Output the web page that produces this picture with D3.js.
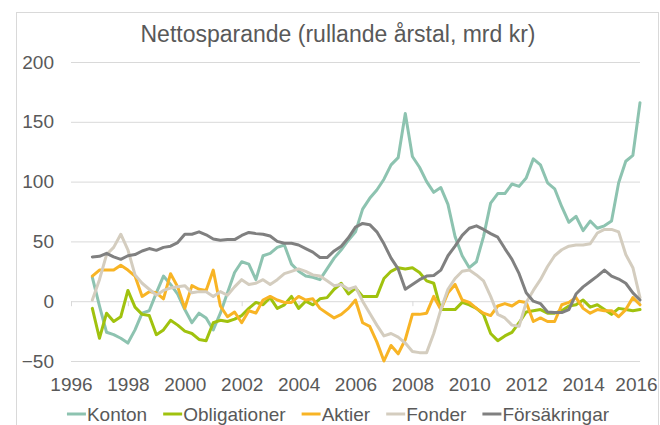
<!DOCTYPE html>
<html>
<head>
<meta charset="utf-8">
<script src="https://cdn.jsdelivr.net/npm/d3@7"></script>
<style>
  body { margin: 0; background: #fff; }
  text { font-family: "Liberation Sans", Arial, sans-serif; fill: #595959; }
</style>
</head>
<body>
<div id="svg-area"></div>
<script>
// quarterly values, first point 1996 Q3 (1996.75), last 2016.0
var firstQuarter = 1996.75;
var seriesNames = ["Konton", "Obligationer", "Aktier", "Fonder", "Försäkringar"];
var yTicks = [-50, 0, 50, 100, 150, 200];
var xTicks = [1996, 1998, 2000, 2002, 2004, 2006, 2008, 2010, 2012, 2014, 2016];

var konton = [20, -4, -26, -28, -31, -35, -24, -10, -8, 7, 21, 14, 6, -7, -18, -10, -14, -24, -10, 7,
  24, 33, 31, 18, 38, 40, 45, 47, 31, 25, 21, 20, 18, 27, 36, 43, 51, 58, 77, 86,
  93, 102, 114, 120, 157, 121, 112, 100, 91, 95, 81, 54, 38, 28, 33, 54, 82, 90, 90, 98,
  96, 103, 119, 114, 99, 94, 79, 66, 71, 59, 67, 61, 63, 67, 99, 117, 122, 166];
var obligationer = [-6, -31, -10, -17, -13, 9, -5, -11, -12, -28, -24, -16, -20, -25, -27, -32, -33, -18, -16, -17,
  -15, -12, -6, -1, -3, 3, -6, -3, 4, -6, 0, -3, 2, 3, 10, 15, 6, 11, 4, 4,
  4, 19, 25, 28, 27, 28, 24, 17, 15, -7, -7, -7, -1, -3, -6, -11, -27, -33, -29, -26,
  -18, -9, -8, -7, -10, -10, -8, -4, -3, 1, -5, -3, -7, -11, -6, -7, -8, -7];
var aktier = [21, 26, 26, 26, 30, 26, 21, 4, 8, 7, 2, 23, 12, -6, 13, 10, 9, 26, -4, -13,
  -9, -18, -8, -10, 1, 4, 1, -1, -1, 4, 1, 2, -6, -10, -14, -11, -6, 1, -18, -21,
  -34, -50, -37, -44, -32, -11, -11, -10, 4, -7, 7, 14, 1, -1, -6, -10, -12, -4, -2, -4,
  0, -1, -17, -14, -17, -17, -3, -1, 3, -6, -10, -7, -8, -8, -13, -7, 3, -3];
var fonder = [1, 18, 39, 45, 56, 43, 22, 15, 10, 5, 9, 11, 12, 13, 7, 8, 8, 4, 8, 5,
  12, 18, 14, 15, 18, 14, 18, 23, 25, 27, 25, 22, 21, 17, 13, 14, 10, 12, 0, -10,
  -20, -29, -27, -30, -35, -42, -43, -43, -27, -7, 10, 19, 25, 26, 22, 17, 4, -11, -14, -20,
  -21, -1, 9, 18, 29, 38, 43, 46, 47, 47, 48, 57, 60, 60, 58, 39, 28, 3];
var forsakringar = [37, 37.5, 40, 37, 35, 38, 39, 42, 44, 42.5, 45, 46, 49, 56, 56, 58, 55.5, 52, 51, 51.5,
  51.5, 55, 57.5, 56.5, 56, 54.5, 50, 48.5, 48.5, 47, 44, 41, 36.5, 36.5, 42, 46, 53, 62, 65, 64,
  58, 48, 36, 27, 10, 14, 18, 21, 21.5, 26, 38, 46, 55, 61, 63, 60, 56.5, 53.5, 44, 35,
  23, 7, 0, -2, -9, -9.5, -9.5, -7, 6, 12, 16.5, 21, 26, 21, 18.5, 15, 7, 1];

var seriesValues = [konton, obligationer, aktier, fonder, forsakringar];
var colors = ["#8dc3b0", "#a0c20e", "#f8b425", "#d4cdbf", "#808080"];

var svgWidth = 660;
var svgHeight = 425;

var margin = { top: 62, right: 20, bottom: 64, left: 71 };
var width = 640 - margin.left;
var height = 361 - margin.top;

var svg = d3.select("#svg-area")
  .append("svg")
  .attr("width", svgWidth)
  .attr("height", svgHeight);

// outer frame
svg.append("rect")
  .attr("x", 16.5)
  .attr("y", 12.5)
  .attr("width", 642)
  .attr("height", 430)
  .attr("fill", "none")
  .attr("stroke", "#d9d9d9");

svg.append("text")
  .attr("x", 338)
  .attr("y", 42)
  .attr("text-anchor", "middle")
  .style("font-size", "23px")
  .text("Nettosparande (rullande årstal, mrd kr)");

var chartGroup = svg.append("g")
  .attr("transform", `translate(${margin.left}, ${margin.top})`);

// Step 1: scales
var xScale = d3.scaleLinear()
  .domain([1996, 2016])
  .range([0, width]);

var yScale = d3.scaleLinear()
  .domain([-50, 200])
  .range([height, 0]);

// Step 2: gridlines + y labels
chartGroup.append("g")
  .call(d3.axisLeft(yScale).tickValues(yTicks).tickSize(-width).tickPadding(17))
  .call(g => g.select(".domain").remove())
  .call(g => g.selectAll("line").attr("stroke", "#d9d9d9"))
  .call(g => g.selectAll("text").style("font-size", "19px").style("font-family", "Liberation Sans, Arial, sans-serif").attr("fill", "#595959"));

// small ticks on the zero line
chartGroup.append("g")
  .attr("transform", `translate(0, ${yScale(0)})`)
  .call(d3.axisBottom(xScale).tickValues(xTicks).tickSize(5).tickFormat(""))
  .call(g => g.select(".domain").remove())
  .call(g => g.selectAll("line").attr("stroke", "#d9d9d9"));

// x labels at bottom
chartGroup.append("g")
  .attr("transform", `translate(0, ${height})`)
  .call(d3.axisBottom(xScale).tickValues(xTicks).tickSize(0).tickPadding(17).tickFormat(d3.format("d")))
  .call(g => g.select(".domain").remove())
  .call(g => g.selectAll("text").style("font-size", "19px").style("font-family", "Liberation Sans, Arial, sans-serif").attr("fill", "#595959"))
  .call(g => g.selectAll("text").filter(d => d === 2016).attr("dx", -4)); // keep last label inside the frame

// Step 3: lines
var line = d3.line()
  .x((d, i) => xScale(firstQuarter + i / 4))
  .y(d => yScale(d));

chartGroup.selectAll(".series")
  .data(seriesValues)
  .join("path")
  .attr("class", "series")
  .attr("d", d => line(d))
  .attr("fill", "none")
  .attr("stroke", (d, i) => colors[i])
  .attr("stroke-width", 3)
  .attr("stroke-linejoin", "round")
  .attr("stroke-linecap", "round");

// Step 4: legend
var legend = svg.append("g");
var legendY = 414;
var xPos = 0;
seriesNames.forEach((name, i) => {
  var item = legend.append("g").attr("transform", `translate(${xPos}, 0)`);
  item.append("line")
    .attr("x1", 0).attr("x2", 19)
    .attr("y1", legendY).attr("y2", legendY)
    .attr("stroke", colors[i])
    .attr("stroke-width", 3);
  var t = item.append("text")
    .attr("x", 20)
    .attr("y", legendY + 7)
    .style("font-size", "19px")
    .text(name);
  xPos += 20 + t.node().getComputedTextLength() + 16;
});
var legendWidth = xPos - 16;
legend.attr("transform", `translate(${338 - legendWidth / 2}, 0)`);
</script>
</body>
</html>
